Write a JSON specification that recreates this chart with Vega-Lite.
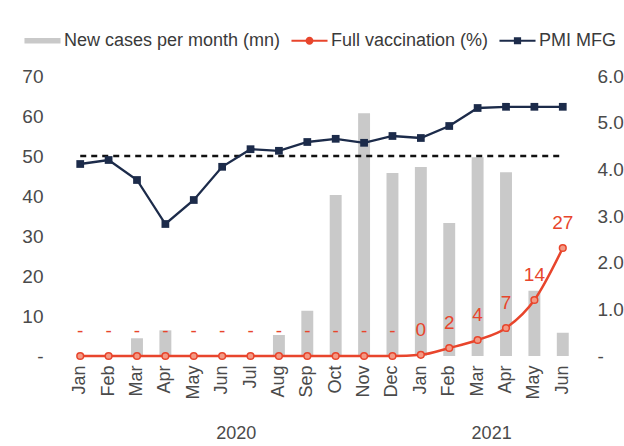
{
  "$schema": "https://vega.github.io/schema/vega-lite/v6.json",
  "width": 545,
  "height": 280,
  "autosize": {"type": "none"},
  "padding": {"left": 49, "top": 76, "right": 30, "bottom": 90},
  "background": "white",
  "config": {
    "font": "Liberation Sans, sans-serif",
    "view": {"stroke": null},
    "axis": {
      "labelFont": "Liberation Sans, sans-serif",
      "labelFontSize": 19,
      "labelColor": "#4a4a4a",
      "domain": false,
      "ticks": false,
      "grid": false,
      "title": null
    },
    "legend": {
      "labelFont": "Liberation Sans, sans-serif",
      "labelFontSize": 18,
      "labelColor": "#3a3a3a",
      "labelLimit": 0
    }
  },
  "data": {
    "values": [
      {"m": "2020-01", "cases": 0, "vacc": 0, "pmi": 48, "lab": "-", "yr": null},
      {"m": "2020-02", "cases": 0, "vacc": 0, "pmi": 49, "lab": "-", "yr": null},
      {"m": "2020-03", "cases": 0.38, "vacc": 0, "pmi": 44, "lab": "-", "yr": null},
      {"m": "2020-04", "cases": 0.55, "vacc": 0, "pmi": 33, "lab": "-", "yr": null},
      {"m": "2020-05", "cases": 0, "vacc": 0, "pmi": 39, "lab": "-", "yr": null},
      {"m": "2020-06", "cases": 0, "vacc": 0, "pmi": 47.3, "lab": "-", "yr": "2020"},
      {"m": "2020-07", "cases": 0, "vacc": 0, "pmi": 51.7, "lab": "-", "yr": null},
      {"m": "2020-08", "cases": 0.45, "vacc": 0, "pmi": 51.3, "lab": "-", "yr": null},
      {"m": "2020-09", "cases": 0.97, "vacc": 0, "pmi": 53.5, "lab": "-", "yr": null},
      {"m": "2020-10", "cases": 3.45, "vacc": 0, "pmi": 54.3, "lab": "-", "yr": null},
      {"m": "2020-11", "cases": 5.2, "vacc": 0, "pmi": 53.3, "lab": "-", "yr": null},
      {"m": "2020-12", "cases": 3.92, "vacc": 0, "pmi": 55, "lab": "-", "yr": null},
      {"m": "2021-01", "cases": 4.05, "vacc": 0.3, "pmi": 54.5, "lab": "0", "yr": null},
      {"m": "2021-02", "cases": 2.85, "vacc": 2, "pmi": 57.5, "lab": "2", "yr": null},
      {"m": "2021-03", "cases": 4.26, "vacc": 4, "pmi": 62, "lab": "4", "yr": "2021"},
      {"m": "2021-04", "cases": 3.94, "vacc": 7, "pmi": 62.3, "lab": "7", "yr": null},
      {"m": "2021-05", "cases": 1.4, "vacc": 14, "pmi": 62.3, "lab": "14", "yr": null},
      {"m": "2021-06", "cases": 0.5, "vacc": 27, "pmi": 62.3, "lab": "27", "yr": null}
    ]
  },
  "encoding": {
    "x": {
      "field": "m",
      "type": "ordinal",
      "sort": null,
      "scale": {"paddingInner": 0, "paddingOuter": 0.6},
      "axis": {
        "labelAngle": -90,
        "labelPadding": 9,
        "labelFontSize": 18,
        "labelExpr": "['Jan','Feb','Mar','Apr','May','Jun','Jul','Aug','Sep','Oct','Nov','Dec'][toNumber(slice(datum.value, 5)) - 1]"
      }
    }
  },
  "layer": [
    {
      "mark": {"type": "bar", "width": {"band": 0.42}},
      "encoding": {
        "y": {
          "field": "cases",
          "type": "quantitative",
          "scale": {"domain": [0, 6], "nice": false},
          "axis": {
            "orient": "right",
            "values": [0, 1, 2, 3, 4, 5, 6],
            "format": ".1f",
            "labelPadding": 3,
            "labelExpr": "datum.value == 0 ? '-' : datum.label"
          }
        },
        "color": {
          "datum": "New cases per month (mn)",
          "scale": {
            "domain": ["New cases per month (mn)", "Full vaccination (%)", "PMI MFG"],
            "range": ["#c9c9c9", "#e8452c", "#1c2b4a"]
          },
          "legend": {
            "title": null,
            "orient": "none",
            "direction": "horizontal",
            "legendX": -25,
            "legendY": -54,
            "symbolSize": 1300,
            "labelOffset": 3,
            "columnPadding": 10,
            "encode": {
              "symbols": {
                "update": {
                  "shape": {"signal": "datum.value == 'PMI MFG' ? 'M-1,-0.06H1V0.06H-1Z M-0.2,-0.2H0.2V0.2H-0.2Z' : datum.value == 'Full vaccination (%)' ? 'M-1,-0.06H1V0.06H-1Z M0.22,0A0.22,0.22 0 1,1 -0.22,0A0.22,0.22 0 1,1 0.22,0Z' : 'M-1,-0.15H1V0.15H-1Z'"},
                  "fill": {"signal": "datum.value == 'PMI MFG' ? '#1c2b4a' : datum.value == 'Full vaccination (%)' ? '#e8452c' : '#c9c9c9'"},
                  "stroke": {"value": null},
                  "strokeWidth": {"value": 0},
                  "opacity": {"value": 1}
                }
              }
            }
          }
        }
      }
    },
    {
      "encoding": {
        "y": {
          "type": "quantitative",
          "scale": {"domain": [0, 70], "nice": false},
          "axis": {
            "orient": "left",
            "values": [0, 10, 20, 30, 40, 50, 60, 70],
            "labelPadding": 6,
            "labelExpr": "datum.value == 0 ? '-' : datum.label"
          }
        }
      },
      "layer": [
        {
          "mark": {"type": "line", "color": "#111111", "strokeWidth": 2.5, "strokeDash": [6, 5]},
          "encoding": {"y": {"datum": 50, "type": "quantitative"}}
        },
        {
          "mark": {"type": "line", "color": "#e8452c", "strokeWidth": 2.5, "interpolate": "monotone"},
          "encoding": {"y": {"field": "vacc", "type": "quantitative"}}
        },
        {
          "mark": {"type": "point", "shape": "circle", "size": 45, "filled": true, "fill": "#f39a85", "stroke": "#e8452c", "strokeWidth": 1.5, "opacity": 1},
          "encoding": {"y": {"field": "vacc", "type": "quantitative"}}
        },
        {
          "mark": {"type": "line", "color": "#1c2b4a", "strokeWidth": 2.3},
          "encoding": {"y": {"field": "pmi", "type": "quantitative"}}
        },
        {
          "mark": {"type": "point", "shape": "square", "size": 60, "filled": true, "color": "#1c2b4a", "opacity": 1},
          "encoding": {"y": {"field": "pmi", "type": "quantitative"}}
        },
        {
          "mark": {"type": "text", "color": "#e8452c", "fontSize": 19, "dy": -25, "font": "Liberation Sans, sans-serif"},
          "encoding": {
            "y": {"field": "vacc", "type": "quantitative"},
            "text": {"field": "lab"}
          }
        },
        {
          "transform": [{"filter": "datum.yr != null"}],
          "mark": {"type": "text", "color": "#4a4a4a", "fontSize": 18, "dx": 14, "font": "Liberation Sans, sans-serif"},
          "encoding": {
            "y": {"datum": -19.5, "type": "quantitative"},
            "text": {"field": "yr"}
          }
        }
      ]
    }
  ],
  "resolve": {"scale": {"y": "independent"}}
}
